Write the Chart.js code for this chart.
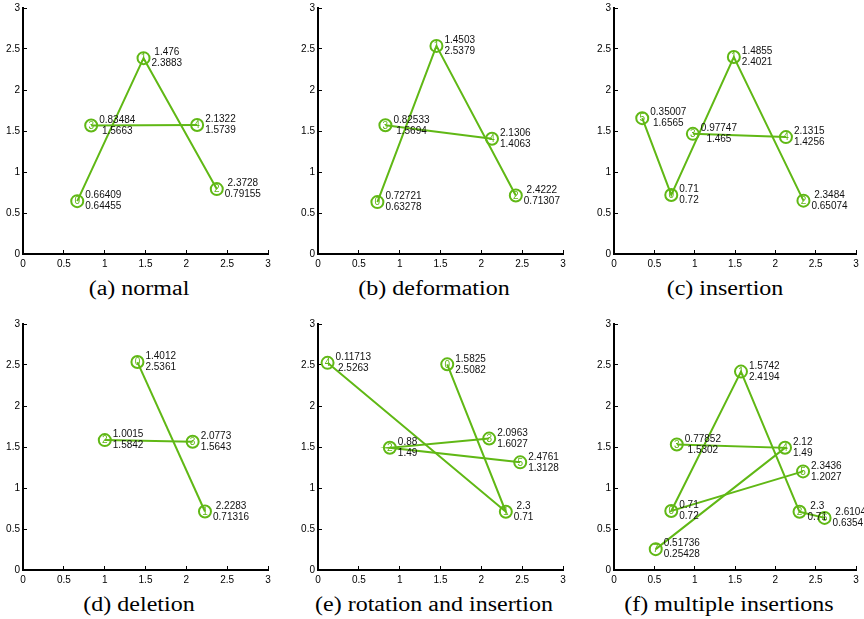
<!DOCTYPE html>
<html>
<head>
<meta charset="utf-8">
<script src="https://cdn.jsdelivr.net/npm/chart.js@4.4.0/dist/chart.umd.min.js"></script>
<style>
  html, body { margin: 0; padding: 0; background: #fff; }
  #wrap { position: relative; width: 864px; height: 619px; overflow: hidden; }
  #wrap canvas { position: absolute; }
  .cap {
    position: absolute;
    font-family: "Liberation Serif", "DejaVu Serif", serif;
    font-size: 20px;
    line-height: 20px;
    white-space: nowrap;
    transform: translateX(-50%) scaleX(1.2);
    color: #000;
  }
</style>
</head>
<body>
<div id="wrap"></div>
<script>
// point coordinates per panel, ids are the numbers drawn in the circles
const aX = [0.66409, 1.476, 2.3728, 0.83484, 2.1322];
const aY = [0.64455, 2.3883, 0.79155, 1.5663, 1.5739];
const aId = [0, 1, 2, 3, 4];
const aStrokes = [[0, 1, 2], [3, 4]];

const bX = [0.72721, 1.4503, 2.4222, 0.82533, 2.1306];
const bY = [0.63278, 2.5379, 0.71307, 1.5694, 1.4063];
const bId = [0, 1, 2, 3, 4];
const bStrokes = [[0, 1, 2], [3, 4]];

const cX = [0.71, 1.4855, 2.3484, 0.97747, 2.1315, 0.35007];
const cY = [0.72, 2.4021, 0.65074, 1.465, 1.4256, 1.6565];
const cId = [0, 1, 2, 3, 4, 5];
const cStrokes = [[5, 0, 1, 2], [3, 4]];

const dX = [1.4012, 2.2283, 1.0015, 2.0773];
const dY = [2.5361, 0.71316, 1.5842, 1.5643];
const dId = [0, 1, 2, 3];
const dStrokes = [[0, 1], [2, 3]];

const eX = [1.5825, 2.3, 0.88, 2.0963, 0.11713, 2.4761];
const eY = [2.5082, 0.71, 1.49, 1.6027, 2.5263, 1.3128];
const eId = [0, 1, 2, 3, 4, 5];
const eStrokes = [[0, 1, 4], [3, 2, 5]];

const fX = [0.71, 1.5742, 2.3, 0.77852, 2.12, 2.3436, 2.6104, 0.51736];
const fY = [0.72, 2.4194, 0.71, 1.5302, 1.49, 1.2027, 0.63541, 0.25428];
const fId = [0, 1, 2, 3, 4, 5, 6, 7];
const fStrokes = [[5, 0, 1, 2, 6], [3, 4, 7]];

const captions = ["(a) normal", "(b) deformation", "(c) insertion",
                  "(d) deletion", "(e) rotation and insertion", "(f) multiple insertions"];
const tickValues = [0, 0.5, 1, 1.5, 2, 2.5, 3];
const tickLabels = ["0", "0.5", "1", "1.5", "2", "2.5", "3"];

const GREEN = "#60b815";
const SANS = '"Liberation Sans", Arial, Helvetica, sans-serif';

// plot area of each panel in page pixels, plus caption placement
const panels = [
  { X: aX, Y: aY, id: aId, strokes: aStrokes, L: 23,  T: 8,   R: 268, B: 254, padR: 10, capX: 138.5, capY: 278 },
  { X: bX, Y: bY, id: bId, strokes: bStrokes, L: 318, T: 8,   R: 563, B: 254, padR: 10, capX: 434,   capY: 278 },
  { X: cX, Y: cY, id: cId, strokes: cStrokes, L: 614, T: 8,   R: 860, B: 254, padR: 4,  capX: 724.5, capY: 278 },
  { X: dX, Y: dY, id: dId, strokes: dStrokes, L: 23,  T: 324, R: 268, B: 570, padR: 10, capX: 138.5, capY: 594 },
  { X: eX, Y: eY, id: eId, strokes: eStrokes, L: 318, T: 324, R: 563, B: 570, padR: 10, capX: 434,   capY: 594 },
  { X: fX, Y: fY, id: fId, strokes: fStrokes, L: 614, T: 324, R: 860, B: 570, padR: 4,  capX: 729,   capY: 594 }
];

// like matlab num2str: 5 significant digits, no trailing zeros
function fmt(v) {
  let s = v.toPrecision(5);
  if (s.indexOf(".") >= 0) s = s.replace(/0+$/, "").replace(/\.$/, "");
  return s;
}

const pointText = {
  id: "pointText",
  afterDatasetsDraw(chart) {
    const ctx = chart.ctx;
    ctx.save();
    ctx.textAlign = "center";
    ctx.textBaseline = "middle";
    chart.data.datasets.forEach((ds, di) => {
      const meta = chart.getDatasetMeta(di);
      meta.data.forEach((el, i) => {
        const p = ds.data[i];
        ctx.font = "10px " + SANS;
        ctx.fillStyle = GREEN;
        ctx.fillText(String(p.id), el.x, el.y + 0.5);

        ctx.fillStyle = "#111";
        const l1 = fmt(p.x), l2 = fmt(p.y);
        const w = Math.max(ctx.measureText(l1).width, ctx.measureText(l2).width);
        const cx = el.x + 8 + w / 2;
        ctx.fillText(l1, cx, el.y - 5.5);
        ctx.fillText(l2, cx, el.y + 5.5);
      });
    });
    ctx.restore();
  }
};

function axis(pos) {
  const horiz = pos === "bottom";
  return {
    type: "linear",
    position: pos,
    min: 0,
    max: 3,
    afterBuildTicks: (s) => { s.ticks = tickValues.map(v => ({ value: v })); },
    afterFit: (s) => {
      if (horiz) { s.height = 20; s.paddingLeft = 0; s.paddingRight = 0; }
      else { s.width = 23; s.paddingTop = 0; s.paddingBottom = 0; }
    },
    ticks: {
      autoSkip: false,
      maxRotation: 0,
      color: "#000",
      padding: horiz ? 8 : 7,
      font: { family: SANS, size: 10 },
      callback: (v, i) => tickLabels[i]
    },
    grid: { drawOnChartArea: false, tickLength: -4, color: "#000", tickWidth: 1 },
    border: { color: "#000", width: 2 }
  };
}

const wrap = document.getElementById("wrap");

panels.forEach((p, k) => {
  const cv = document.createElement("canvas");
  const w = p.R - p.L + 23 + p.padR;
  const h = p.B - p.T + 8 + 20;
  cv.width = w;
  cv.height = h;
  cv.style.left = (p.L - 23) + "px";
  cv.style.top = (p.T - 8) + "px";
  cv.style.width = w + "px";
  cv.style.height = h + "px";
  wrap.appendChild(cv);

  const datasets = p.strokes.map(st => ({
    data: st.map(i => ({ x: p.X[i], y: p.Y[i], id: p.id[i] })),
    showLine: true,
    borderColor: GREEN,
    borderWidth: 2,
    pointRadius: 6,
    pointBorderWidth: 2,
    pointBorderColor: GREEN,
    pointBackgroundColor: "rgba(0,0,0,0)",
    clip: false
  }));

  new Chart(cv, {
    type: "scatter",
    data: { datasets },
    options: {
      responsive: false,
      animation: false,
      devicePixelRatio: 1,
      layout: { padding: { left: 0, top: 8, right: p.padR, bottom: 0 } },
      plugins: { legend: { display: false }, tooltip: { enabled: false } },
      scales: { x: axis("bottom"), y: axis("left") }
    },
    plugins: [pointText]
  });

  const cap = document.createElement("div");
  cap.className = "cap";
  cap.textContent = captions[k];
  cap.style.left = p.capX + "px";
  cap.style.top = p.capY + "px";
  wrap.appendChild(cap);
});
</script>
</body>
</html>
